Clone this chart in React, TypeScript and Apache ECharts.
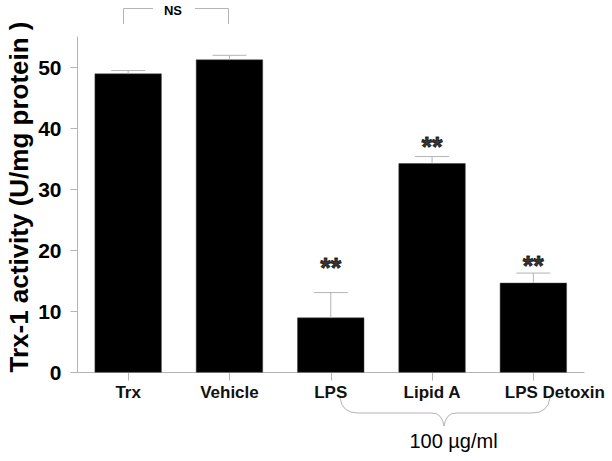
import React, { useEffect, useRef } from "react";
import * as echarts from "echarts";

const categories = ["Trx", "Vehicle", "LPS", "Lipid A", "LPS Detoxin"];
const means = [49.0, 51.3, 9.0, 34.3, 14.7];
const errTop = [49.5, 52.0, 13.1, 35.4, 16.3];
const sigCats = ["LPS", "Lipid A", "LPS Detoxin"];
const sigY = [17.6, 37.5, 17.95];
const yTicks = [0, 10, 20, 30, 40, 50];

const FONT = 'Arial, "Liberation Sans", sans-serif';
const GRAY = "#b4b4b4";

echarts.graphic.registerShape(
  "brace",
  echarts.graphic.extendPath(
    "M340,398 Q342,413 358,413 L432,413 Q442,413 444,426 Q446,413 456,413 L532,413 Q548,413 550,398",
    {}
  )
);

export default function App() {
  const ref = useRef<HTMLDivElement>(null);
  useEffect(() => {
    if (!ref.current) return;
    const chart = echarts.init(ref.current, null, { renderer: "svg" });
    chart.setOption({
      animation: false,
      backgroundColor: "#fff",
      grid: { left: 77.5, right: 28, top: 37, bottom: 88.5 },
      xAxis: {
        type: "category",
        data: categories.map((c) =>
          c === "LPS Detoxin" ? { value: c, textStyle: { padding: [0, 0, 0, 43] } } : c
        ),
        axisLine: { lineStyle: { color: GRAY, width: 1 } },
        axisTick: { show: true, alignWithLabel: true, length: 8, lineStyle: { color: GRAY } },
        axisLabel: {
          interval: 0,
          fontFamily: FONT,
          fontWeight: "bold",
          fontSize: 17,
          color: "#111",
          margin: 11,
        },
      },
      yAxis: {
        type: "value",
        min: 0,
        max: 55,
        interval: 10,
        splitLine: { show: false },
        axisLine: { show: true, lineStyle: { color: GRAY, width: 1 } },
        axisTick: { show: true, length: 7, lineStyle: { color: GRAY }, customValues: yTicks },
        axisLabel: {
          fontFamily: FONT,
          fontWeight: "bold",
          fontSize: 21,
          color: "#000",
          margin: 16,
          customValues: yTicks,
        },
      },
      series: [
        {
          type: "bar",
          data: means,
          barWidth: 67,
          itemStyle: { color: "#000", borderColor: "#444", borderWidth: 0.5 },
          z: 2,
        },
        {
          type: "custom",
          data: means.map((m, i) => [i, m, errTop[i]]),
          z: 3,
          renderItem: (params: any, api: any) => {
            const base = api.coord([api.value(0), api.value(1)]);
            const top = api.coord([api.value(0), api.value(2)]);
            return {
              type: "group",
              children: [
                {
                  type: "line",
                  shape: { x1: base[0], y1: base[1], x2: base[0], y2: top[1] },
                  style: { stroke: GRAY, lineWidth: 1 },
                },
                {
                  type: "line",
                  shape: { x1: base[0] - 17, y1: top[1], x2: base[0] + 17, y2: top[1] },
                  style: { stroke: GRAY, lineWidth: 1 },
                },
              ],
            };
          },
        },
        {
          type: "scatter",
          data: sigCats.map((c, i) => [c, sigY[i]]),
          symbolSize: 0,
          itemStyle: { color: "#000" },
          z: 4,
          label: {
            show: true,
            position: "inside",
            formatter: "**",
            fontFamily: FONT,
            fontWeight: "bold",
            fontSize: 27,
            color: "#000",
            textBorderColor: "#000",
            textBorderWidth: 0.8,
            offset: [0, 3],
          },
        },
      ],
      graphic: [
        {
          type: "text",
          x: 19,
          y: 197,
          rotation: Math.PI / 2,
          style: {
            text: "Trx-1 activity (U/mg protein )",
            fontFamily: FONT,
            fontWeight: "bold",
            fontSize: 26,
            fill: "#000",
            textAlign: "center",
            textVerticalAlign: "middle",
          },
        },
        {
          type: "polyline",
          shape: { points: [[123.5, 24], [123.5, 8.5], [153, 8.5]] },
          style: { stroke: GRAY, lineWidth: 1, fill: null },
        },
        {
          type: "polyline",
          shape: { points: [[195, 8.5], [228.5, 8.5], [228.5, 24]] },
          style: { stroke: GRAY, lineWidth: 1, fill: null },
        },
        {
          type: "text",
          x: 173,
          y: 10,
          style: {
            text: "NS",
            fontFamily: FONT,
            fontWeight: "bold",
            fontSize: 13,
            fill: "#000",
            textAlign: "center",
            textVerticalAlign: "middle",
          },
        },
        {
          type: "brace",
          x: 0,
          y: 0,
          style: { stroke: GRAY, lineWidth: 1, fill: null },
        },
        {
          type: "text",
          x: 453.5,
          y: 441,
          style: {
            text: "100 \u00b5g/ml",
            fontFamily: FONT,
            fontSize: 20,
            fill: "#000",
            textAlign: "center",
            textVerticalAlign: "middle",
          },
        },
      ],
    });
    return () => chart.dispose();
  }, []);
  return (
    <div
      ref={ref}
      style={{ position: "absolute", left: 0, top: 0, width: 612, height: 461 }}
    />
  );
}
